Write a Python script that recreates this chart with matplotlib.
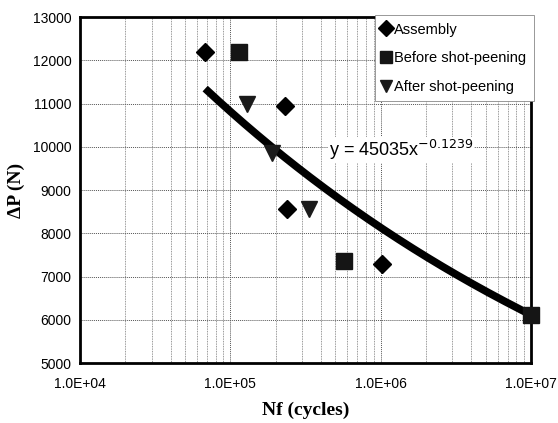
import numpy as np
import matplotlib
matplotlib.use("Agg")
import matplotlib.pyplot as plt
from matplotlib.ticker import FixedLocator, LogLocator, NullFormatter

# data
assembly_n = [6.8e4, 2.3e5, 2.38e5, 1.02e6]
assembly_p = [12200, 10950, 8550, 7300]
before_n = [1.15e5, 5.7e5, 1.0e7]
before_p = [12200, 7350, 6100]
after_n = [1.3e5, 1.9e5, 3.35e5]
after_p = [11000, 9850, 8550]

# power trendline as printed on the chart
fit_a = 45035
fit_b = -0.1239
fit_range = [6.8e4, 1.0e7]

x_ticks = [1e4, 1e5, 1e6, 1e7]
x_tick_labels = ["1.0E+04", "1.0E+05", "1.0E+06", "1.0E+07"]
y_ticks = [5000, 6000, 7000, 8000, 9000, 10000, 11000, 12000, 13000]

plt.rcParams['font.family'] = ['Liberation Sans', 'DejaVu Sans']

fig = plt.figure(figsize=(5.58, 4.23), dpi=100)
ax = fig.add_axes([0.1434, 0.1418, 0.8082, 0.818])

ax.set_xscale('log')
ax.set_xlim(1e4, 1e7)
ax.set_ylim(5000, 13000)

# grid
ax.xaxis.set_minor_locator(LogLocator(base=10, subs=np.arange(2, 10)))
ax.xaxis.set_minor_formatter(NullFormatter())
ax.grid(True, which='major', color='#555555', linestyle=(0, (1, 1)), linewidth=0.7)
ax.grid(True, which='minor', axis='x', color='#777777', linestyle=(0, (1, 1)), linewidth=0.6)
ax.set_axisbelow(True)

# trendline
xs = np.logspace(np.log10(fit_range[0]), np.log10(fit_range[1]), 200)
ax.plot(xs, fit_a * xs ** fit_b, color='black', linewidth=5.5, solid_capstyle='butt', zorder=3)

ax.plot(assembly_n, assembly_p, linestyle='none', marker='D', markersize=9,
        color='black', label='Assembly', zorder=4, clip_on=False)
ax.plot(before_n, before_p, linestyle='none', marker='s', markersize=11,
        color='#151515', label='Before shot-peening', zorder=4, clip_on=False)
ax.plot(after_n, after_p, linestyle='none', marker='v', markersize=11,
        color='#1a1a1a', label='After shot-peening', zorder=4, clip_on=False)

ax.text(4.5e5, 9930, r'y = 45035x$^{-0.1239}$', fontsize=13, ha='left', va='center',
        zorder=5, bbox=dict(facecolor='white', edgecolor='none', pad=0.5))

leg = ax.legend(loc='upper right', bbox_to_anchor=(1.006, 1.005), fontsize=10.5,
                frameon=True, fancybox=False, framealpha=1, edgecolor='#888888',
                handlelength=0.6, handletextpad=0.25, borderpad=0.5, labelspacing=1.0,
                borderaxespad=0)
leg.get_frame().set_linewidth(0.6)
for h in leg.legend_handles:
    h.set_markersize(8)

ax.xaxis.set_major_locator(FixedLocator(x_ticks))
ax.set_xticklabels(x_tick_labels)
ax.set_yticks(y_ticks)
ax.tick_params(axis='both', which='both', length=0, labelsize=10)
ax.tick_params(axis='x', pad=10)
ax.tick_params(axis='y', pad=6)

for s in ax.spines.values():
    s.set_linewidth(2)
    s.set_color('black')

ax.set_xlabel('Nf (cycles)', fontsize=14, fontweight='bold', family='Liberation Serif', labelpad=8)
ax.set_ylabel(r'ΔP (N)', fontsize=14, fontweight='bold', family='Liberation Serif', labelpad=6)

fig.savefig('out.png', dpi=100)
